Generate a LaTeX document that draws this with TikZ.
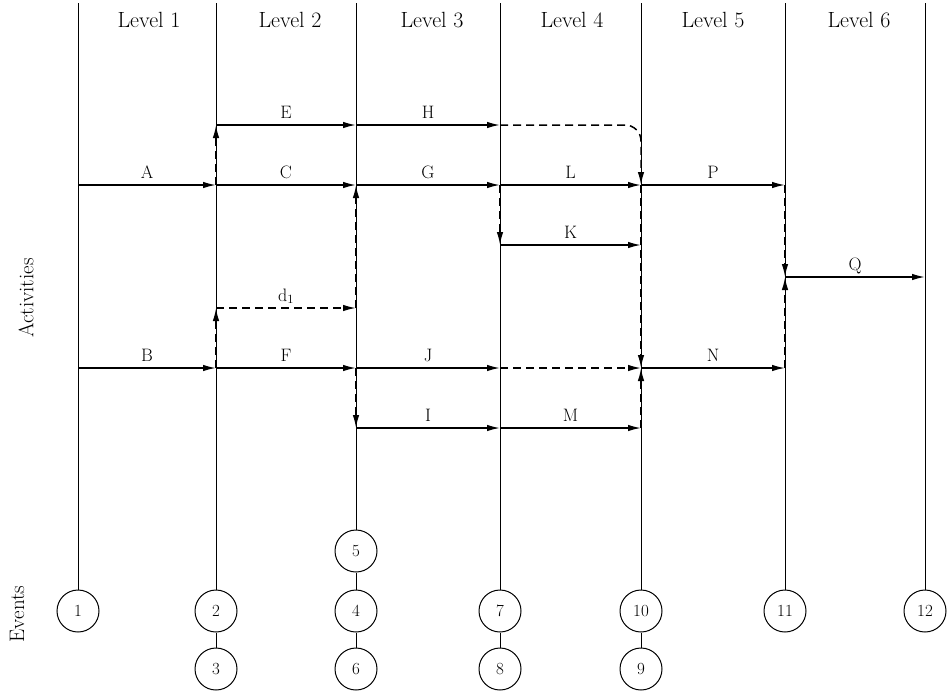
\documentclass[tikz,border=0pt]{standalone}
\usetikzlibrary{arrows.meta}
\begin{document}
\begin{tikzpicture}[x=1pt,y=-1pt,
  levelline/.style={line width=0.8pt},
  act/.style={line width=1.5pt,-{Latex[length=13pt,width=6.5pt]}},
  dummy/.style={line width=1.5pt,dash pattern=on 8pt off 5pt,-{Latex[length=13pt,width=6.5pt]}},
  event/.style={circle,draw,line width=1pt,minimum size=42pt,inner sep=0pt,
    font=\fontsize{17}{17}\selectfont},
  lbl/.style={inner sep=0pt,text depth=0pt,font=\fontsize{18}{18}\selectfont,above=6pt},
  head/.style={font=\fontsize{22}{26}\selectfont},
  side/.style={rotate=90,font=\fontsize{21}{24}\selectfont}
]
\useasboundingbox (0,0) rectangle (947,697);

% column positions of the level boundaries
\foreach \n/\x in {1/78,2/216,3/356,4/500,5/641,6/785,7/925}{
  \coordinate (t\n) at (\x,3);
  \coordinate (E\n) at (\x,125);  % row E, H
  \coordinate (A\n) at (\x,185);  % row A, C, G, L, P
  \coordinate (K\n) at (\x,245);  % row K
  \coordinate (Q\n) at (\x,277);  % row Q
  \coordinate (D\n) at (\x,308);  % row d1
  \coordinate (B\n) at (\x,368);  % row B, F, J, N
  \coordinate (I\n) at (\x,428);  % row I, M
}

% level headings
\node[head] (lv1) at (149,20) {Level 1};
\node[head] (lv2) at (290,20) {Level 2};
\node[head] (lv3) at (432,20) {Level 3};
\node[head] (lv4) at (572,20) {Level 4};
\node[head] (lv5) at (713,20) {Level 5};
\node[head] (lv6) at (859,20) {Level 6};

% side captions
\node[side] (acts) at (26,298) {Activities};
\node[side] (evts) at (17,614) {Events};

% event circles
\node[event] (e1) at (78,611) {1};
\node[event] (e2) at (216,611) {2};
\node[event] (e3) at (216,669) {3};
\node[event] (e5) at (356,551) {5};
\node[event] (e4) at (356,611) {4};
\node[event] (e6) at (356,669) {6};
\node[event] (e7) at (500,611) {7};
\node[event] (e8) at (500,669) {8};
\node[event] (e10) at (641,611) {10};
\node[event] (e9) at (641,669) {9};
\node[event] (e11) at (785,611) {11};
\node[event] (e12) at (925,611) {12};

% level boundary lines down to their events
\draw[levelline] (t1) -- (e1);
\draw[levelline] (t2) -- (e2);
\draw[levelline] (t3) -- (e5);
\draw[levelline] (t4) -- (e7);
\draw[levelline] (t5) -- (e10);
\draw[levelline] (t6) -- (e11);
\draw[levelline] (t7) -- (e12);
\draw[levelline] (e2) -- (e3);
\draw[levelline] (e5) -- (e4);
\draw[levelline] (e4) -- (e6);
\draw[levelline] (e7) -- (e8);
\draw[levelline] (e10) -- (e9);

% activities
\draw[act] (E2) -- node[lbl] (lE) {E} (E3);
\draw[act] (E3) -- node[lbl] (lH) {H} (E4);
\draw[act] (A1) -- node[lbl] (lA) {A} (A2);
\draw[act] (A2) -- node[lbl] (lC) {C} (A3);
\draw[act] (A3) -- node[lbl] (lG) {G} (A4);
\draw[act] (A4) -- node[lbl] (lL) {L} (A5);
\draw[act] (A5) -- node[lbl] (lP) {P} (A6);
\draw[act] (K4) -- node[lbl] (lK) {K} (K5);
\draw[act] (Q6) -- node[lbl] (lQ) {Q} (Q7);
\draw[act] (B1) -- node[lbl] (lB) {B} (B2);
\draw[act] (B2) -- node[lbl] (lF) {F} (B3);
\draw[act] (B3) -- node[lbl] (lJ) {J} (B4);
\draw[act] (B5) -- node[lbl] (lN) {N} (B6);
\draw[act] (I3) -- node[lbl] (lI) {I} (I4);
\draw[act] (I4) -- node[lbl] (lM) {M} (I5);

% dummy activities and dependencies
\draw[dummy] (D2) -- node[lbl] (ld) {d\textsubscript{1}} (D3);
\draw[dummy] (B4) -- (B5);
\draw[dummy] (A2) -- (E2);
\draw[dummy] (B2) -- (D2);
\draw[dummy] (D3) -- (A3);
\draw[dummy] (B3) -- (I3);
\draw[dummy] (A4) -- (K4);
\draw[dummy,rounded corners=16pt] (E4) -- (E5) -- (A5);
\draw[dummy] (A5) -- (B5);
\draw[dummy] (I5) -- (B5);
\draw[dummy] (A6) -- (Q6);
\draw[dummy] (B6) -- (Q6);
\end{tikzpicture}
\end{document}
